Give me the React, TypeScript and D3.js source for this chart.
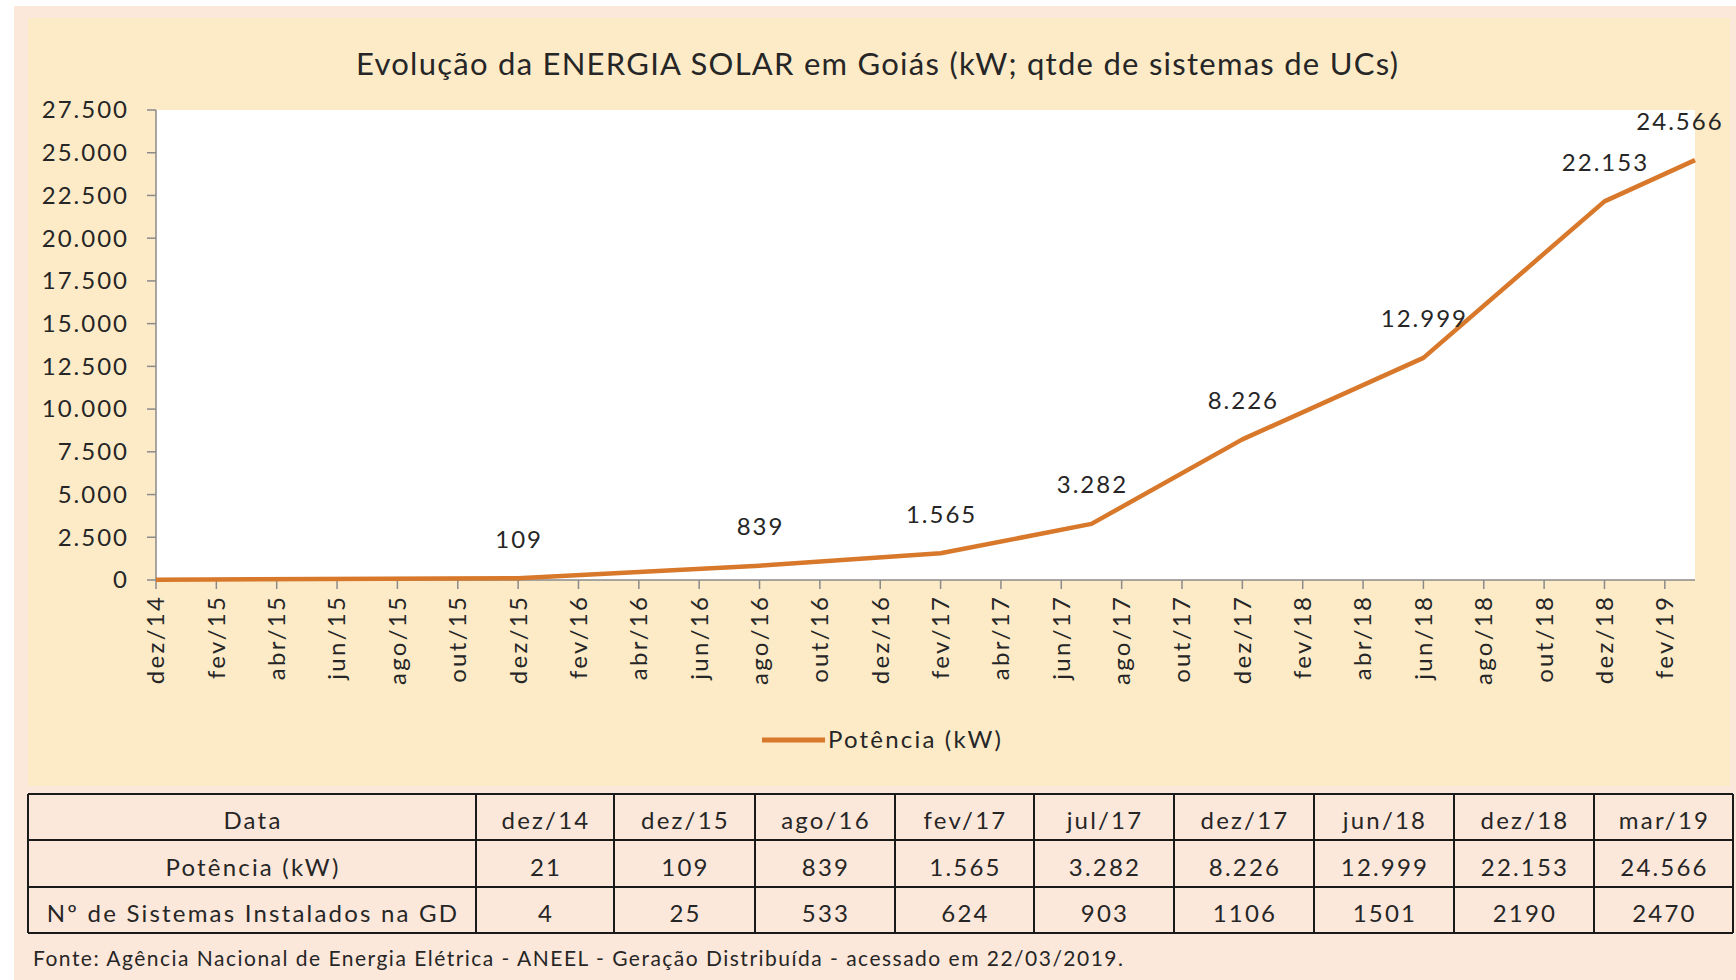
import React from "react";
import * as d3 from "d3";

const tableDates = ["dez/14", "dez/15", "ago/16", "fev/17", "jul/17", "dez/17", "jun/18", "dez/18", "mar/19"];
const potencia = [21, 109, 839, 1565, 3282, 8226, 12999, 22153, 24566];
const sistemas = [4, 25, 533, 624, 903, 1106, 1501, 2190, 2470];
const xTickLabels = [
  "dez/14", "fev/15", "abr/15", "jun/15", "ago/15", "out/15", "dez/15", "fev/16", "abr/16",
  "jun/16", "ago/16", "out/16", "dez/16", "fev/17", "abr/17", "jun/17", "ago/17", "out/17",
  "dez/17", "fev/18", "abr/18", "jun/18", "ago/18", "out/18", "dez/18", "fev/19",
];
const yTicks = [0, 2500, 5000, 7500, 10000, 12500, 15000, 17500, 20000, 22500, 25000, 27500];

const title = "Evolução da ENERGIA SOLAR em Goiás (kW; qtde de sistemas de UCs)";
const legendLabel = "Potência (kW)";
const rowHeaders = ["Data", "Potência (kW)", "Nº de Sistemas Instalados na GD"];
const source = "Fonte: Agência Nacional de Energia Elétrica - ANEEL - Geração Distribuída - acessado em 22/03/2019.";

const MONTHS = ["jan", "fev", "mar", "abr", "mai", "jun", "jul", "ago", "set", "out", "nov", "dez"];
const monthIdx = (s: string) => {
  const [m, y] = s.split("/");
  return (+y - 14) * 12 + MONTHS.indexOf(m) - 11;
};

const loc = d3.formatLocale({ decimal: ",", thousands: ".", grouping: [3], currency: ["R$", ""] });
const fmt = loc.format(",d");

const FONT = "Lato, 'Open Sans', sans-serif";
const TXT = "#262626";
const ORANGE = "#D8782B";
const LS = 2;

export default function App() {
  const W = 1736, H = 980;
  const plot = { left: 156, right: 1695, top: 110, bottom: 580 };
  const x = d3.scaleLinear().domain([0, 51]).range([plot.left, plot.right]);
  const y = d3.scaleLinear().domain([0, 27500]).range([plot.bottom, plot.top]);
  const pts = tableDates.map((d, i) => ({ m: monthIdx(d), v: potencia[i] }));
  const line = d3.line<{ m: number; v: number }>().x((d) => x(d.m)).y((d) => y(d.v));

  const colX = [28, 476, 614, 755, 895, 1034, 1174, 1314, 1454, 1594, 1733];
  const rowY = [794, 840, 887, 933];
  const tableRows = [tableDates, potencia.map((v) => fmt(v)), sistemas.map((v) => String(v))];

  return (
    <svg width={W} height={H} style={{ position: "absolute", left: 0, top: 0 }} fontFamily={FONT}>
      <rect x={0} y={0} width={W} height={H} fill="#ffffff" />
      <rect x={14} y={6} width={W - 14} height={H - 6} fill="#FCE8DB" />
      <rect x={28} y={18} width={1702} height={768} fill="#FDEBC8" />
      <rect x={plot.left} y={plot.top} width={plot.right - plot.left} height={plot.bottom - plot.top} fill="#ffffff" />

      <text x={356} y={75} fontSize={31} fill={TXT} textLength={1042} lengthAdjust="spacing">{title}</text>

      {/* y axis */}
      <line x1={plot.left} x2={plot.left} y1={plot.top} y2={plot.bottom} stroke="#8a8a8a" strokeWidth={1.5} />
      {yTicks.map((t) => (
        <g key={t}>
          <line x1={plot.left - 9} x2={plot.left} y1={y(t)} y2={y(t)} stroke="#8a8a8a" strokeWidth={1.5} />
          <text x={127 + LS} y={y(t)} dy="0.35em" textAnchor="end" fontSize={24} letterSpacing={LS} fill={TXT}>{fmt(t)}</text>
        </g>
      ))}

      {/* x axis */}
      <line x1={plot.left} x2={plot.right} y1={plot.bottom} y2={plot.bottom} stroke="#8a8a8a" strokeWidth={1.5} />
      {xTickLabels.map((l) => {
        const xx = x(monthIdx(l));
        return (
          <g key={l}>
            <line x1={xx} x2={xx} y1={plot.bottom} y2={plot.bottom + 9} stroke="#8a8a8a" strokeWidth={1.5} />
            <text transform={`translate(${xx},${plot.bottom + 17 - 2.3}) rotate(-90)`} dy="0.35em" textAnchor="end" fontSize={24} letterSpacing={2.3} fill={TXT}>{l}</text>
          </g>
        );
      })}

      <path d={line(pts) || ""} fill="none" stroke={ORANGE} strokeWidth={4.5} strokeLinejoin="round" />

      {pts.slice(1).map((p, i) => {
        const px = x(p.m);
        const half = 43;
        const cx = Math.min(px, 1722 - half);
        return (
          <text key={i} x={cx + LS / 2} y={y(p.v) - 39} dy="0.35em" textAnchor="middle" fontSize={24} letterSpacing={LS} fill={TXT}>{fmt(p.v)}</text>
        );
      })}

      {/* legend */}
      <line x1={762} x2={825} y1={740} y2={740} stroke={ORANGE} strokeWidth={5} />
      <text x={828} y={740} dy="0.35em" fontSize={24} letterSpacing={2.2} fill={TXT}>{legendLabel}</text>

      {/* table */}
      {tableRows.map((row, r) => {
        const cy = (rowY[r] + rowY[r + 1]) / 2 + 4;
        return (
          <g key={r}>
            <text x={(colX[0] + colX[1]) / 2 + 1} y={cy} dy="0.35em" textAnchor="middle" fontSize={24} letterSpacing={2.2} fill={TXT}>{rowHeaders[r]}</text>
            {row.map((c, i) => (
              <text key={i} x={(colX[i + 1] + colX[i + 2]) / 2 + 1} y={cy} dy="0.35em" textAnchor="middle" fontSize={24} letterSpacing={2.2} fill={TXT}>{c}</text>
            ))}
          </g>
        );
      })}
      {rowY.map((ry, i) => (
        <line key={"h" + i} x1={colX[0]} x2={colX[colX.length - 1]} y1={ry} y2={ry} stroke="#1a1a1a" strokeWidth={2} />
      ))}
      {colX.map((cx, i) => (
        <line key={"v" + i} x1={cx} x2={cx} y1={rowY[0]} y2={rowY[rowY.length - 1]} stroke="#1a1a1a" strokeWidth={2} />
      ))}

      <text x={33} y={959} dy="0.35em" fontSize={21} fill={TXT} textLength={1090} lengthAdjust="spacing">{source}</text>
    </svg>
  );
}
